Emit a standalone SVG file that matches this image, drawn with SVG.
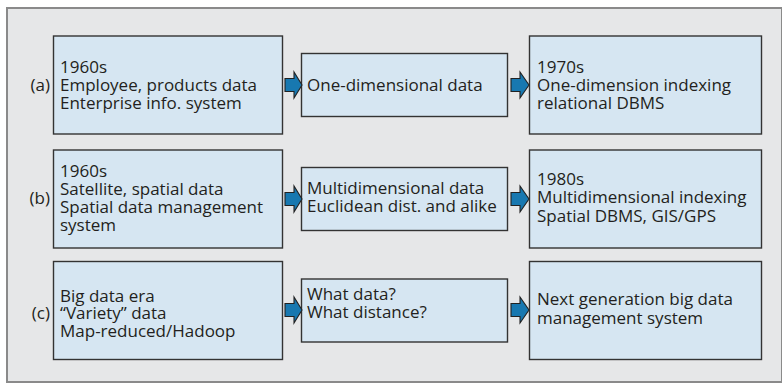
<svg xmlns="http://www.w3.org/2000/svg" width="782" height="383" viewBox="0 0 782 383">
<style>
  .frame { fill: #e6e7e8; stroke: #8a8a8a; stroke-width: 2; }
  .box { fill: #d6e6f2; stroke: #333333; stroke-width: 1.4; }
  .arrow { fill: #1878b0; stroke: #222222; stroke-width: 1.1; stroke-linejoin: miter; }
  text { font-family: "Open Sans", "Noto Sans", "Liberation Sans", sans-serif; font-size: 17px; fill: #231f20; }
  .lbl { text-anchor: end; }
</style>
<rect class="frame" x="7" y="8" width="775" height="374"/>

<g id="row-a-label"><text class="lbl" x="50" y="90.5">(a)</text></g>
<g id="a1">
  <rect class="box" x="53.5" y="36" width="229" height="98"/>
  <text x="60" y="72.5"><tspan x="60">1960s</tspan><tspan x="60" dy="18">Employee, products data</tspan><tspan x="60" dy="18">Enterprise info. system</tspan></text>
</g>
<g id="a2">
  <rect class="box" x="301.5" y="53.5" width="206" height="63"/>
  <text x="307" y="90.5">One-dimensional data</text>
</g>
<g id="a3">
  <rect class="box" x="529.5" y="36" width="232" height="98"/>
  <text x="537" y="72.5"><tspan x="537">1970s</tspan><tspan x="537" dy="18">One-dimension indexing</tspan><tspan x="537" dy="18">relational DBMS</tspan></text>
</g>

<g id="row-b-label"><text class="lbl" x="50" y="204">(b)</text></g>
<g id="b1">
  <rect class="box" x="53.5" y="150" width="229" height="98"/>
  <text x="60" y="176.5"><tspan x="60">1960s</tspan><tspan x="60" dy="18.3">Satellite, spatial data</tspan><tspan x="60" dy="18.3">Spatial data management</tspan><tspan x="60" dy="18.3">system</tspan></text>
</g>
<g id="b2">
  <rect class="box" x="301.5" y="167.5" width="206" height="63"/>
  <text x="307" y="193.5"><tspan x="307">Multidimensional data</tspan><tspan x="307" dy="18.2">Euclidean dist. and alike</tspan></text>
</g>
<g id="b3">
  <rect class="box" x="529.5" y="150" width="232" height="98"/>
  <text x="537" y="185"><tspan x="537">1980s</tspan><tspan x="537" dy="18.3">Multidimensional indexing</tspan><tspan x="537" dy="18.3">Spatial DBMS, GIS/GPS</tspan></text>
</g>

<g id="row-c-label"><text class="lbl" x="50" y="319.3">(c)</text></g>
<g id="c1">
  <rect class="box" x="53.5" y="261.5" width="229" height="98"/>
  <text x="60" y="301.5"><tspan x="60">Big data era</tspan><tspan x="60" dy="17.9">“Variety” data</tspan><tspan x="60" dy="17.9">Map-reduced/Hadoop</tspan></text>
</g>
<g id="c2">
  <rect class="box" x="301.5" y="279" width="206" height="63"/>
  <text x="307" y="300"><tspan x="307">What data?</tspan><tspan x="307" dy="18.3">What distance?</tspan></text>
</g>
<g id="c3">
  <rect class="box" x="529.5" y="261.5" width="232" height="98"/>
  <text x="537" y="305"><tspan x="537">Next generation big data</tspan><tspan x="537" dy="18.5">management system</tspan></text>
</g>

<g id="connectors">
  <path class="arrow" d="M285,78.5 H294 V72 L302,85 L294,98 V91.5 H285 Z"/>
  <path class="arrow" d="M511,78.5 H520 V72 L529,85 L520,98 V91.5 H511 Z"/>
  <path class="arrow" d="M285,192.5 H294 V186 L302,199 L294,212 V205.5 H285 Z"/>
  <path class="arrow" d="M511,192.5 H520 V186 L529,199 L520,212 V205.5 H511 Z"/>
  <path class="arrow" d="M285,303.5 H294 V297 L302,310 L294,323 V316.5 H285 Z"/>
  <path class="arrow" d="M511,303.5 H520 V297 L529,310 L520,323 V316.5 H511 Z"/>
</g>
</svg>
